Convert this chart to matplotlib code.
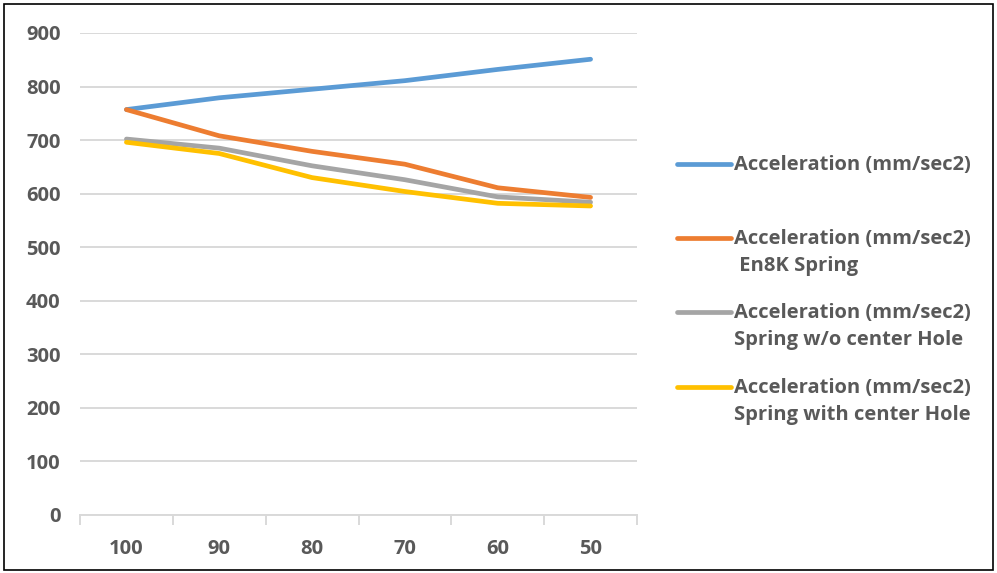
import matplotlib
matplotlib.use("Agg")
import matplotlib.pyplot as plt
from matplotlib.lines import Line2D
from matplotlib.patches import Rectangle

BLUE, ORANGE, GREY, GOLD = "#5b9bd5", "#ed7d31", "#a5a5a5", "#ffc000"
TEXT = "#595959"
GRID = "#d9d9d9"

plt.rcParams["font.family"] = ["Open Sans", "DejaVu Sans"]
plt.rcParams["font.weight"] = "bold"

categories = ["100", "90", "80", "70", "60", "50"]
accel_plain = [757, 779, 795, 811, 832, 851]
accel_en8k = [757, 708, 679, 655, 611, 593]
accel_no_hole = [702, 685, 652, 626, 594, 584]
accel_with_hole = [696, 675, 630, 604, 582, 577]

series = [
    (accel_plain, BLUE, "Acceleration (mm/sec2)"),
    (accel_en8k, ORANGE, "Acceleration (mm/sec2)\n En8K Spring"),
    (accel_no_hole, GREY, "Acceleration (mm/sec2)\nSpring w/o center Hole"),
    (accel_with_hole, GOLD, "Acceleration (mm/sec2)\nSpring with center Hole"),
]

W, H = 997, 573
fig = plt.figure(figsize=(W / 100, H / 100), dpi=100)
ax = fig.add_axes([80 / W, 1 - 515 / H, 557 / W, 482 / H])

x = list(range(len(categories)))
for vals, col, _ in series:
    ax.plot(x, vals, color=col, lw=3.4, solid_capstyle="round",
            solid_joinstyle="round", zorder=3)

ax.set_xlim(-0.5, len(categories) - 0.5)
ax.set_ylim(0, 900)
ax.set_yticks(range(0, 901, 100))
ax.grid(axis="y", color=GRID, lw=1.4, zorder=0)
ax.set_axisbelow(True)

ax.set_xticks(x)
ax.set_xticklabels(categories)
ax.set_xticks([i - 0.5 for i in range(len(categories) + 1)], minor=True)
ax.tick_params(axis="x", which="major", length=0, pad=17, labelsize=14.5,
               labelcolor=TEXT)
ax.tick_params(axis="x", which="minor", length=7, width=1.4, color=GRID)
ax.tick_params(axis="y", length=0, pad=14, labelsize=14.5, labelcolor=TEXT)

for side in ("top", "right", "left"):
    ax.spines[side].set_visible(False)
ax.spines["bottom"].set_color(GRID)
ax.spines["bottom"].set_linewidth(1.4)

# legend drawn by hand so the keys sit on the first text line
rows_y = [164, 238, 312, 387]
for (vals, col, label), yy in zip(series, rows_y):
    fy = 1 - yy / H
    fig.add_artist(Line2D([677 / W, 731 / W], [fy, fy], color=col, lw=3.4,
                          solid_capstyle="round", transform=fig.transFigure))
    fig.text(734 / W, fy + 9 / H, label, color=TEXT, fontsize=14.5,
             va="top", ha="left", linespacing=1.45,
             transform=fig.transFigure)

fig.add_artist(Rectangle((4 / W, 3 / H), 989 / W, 566 / H, fill=False,
                         edgecolor="black", lw=1.2, transform=fig.transFigure))

fig.savefig("out.png", dpi=100)
